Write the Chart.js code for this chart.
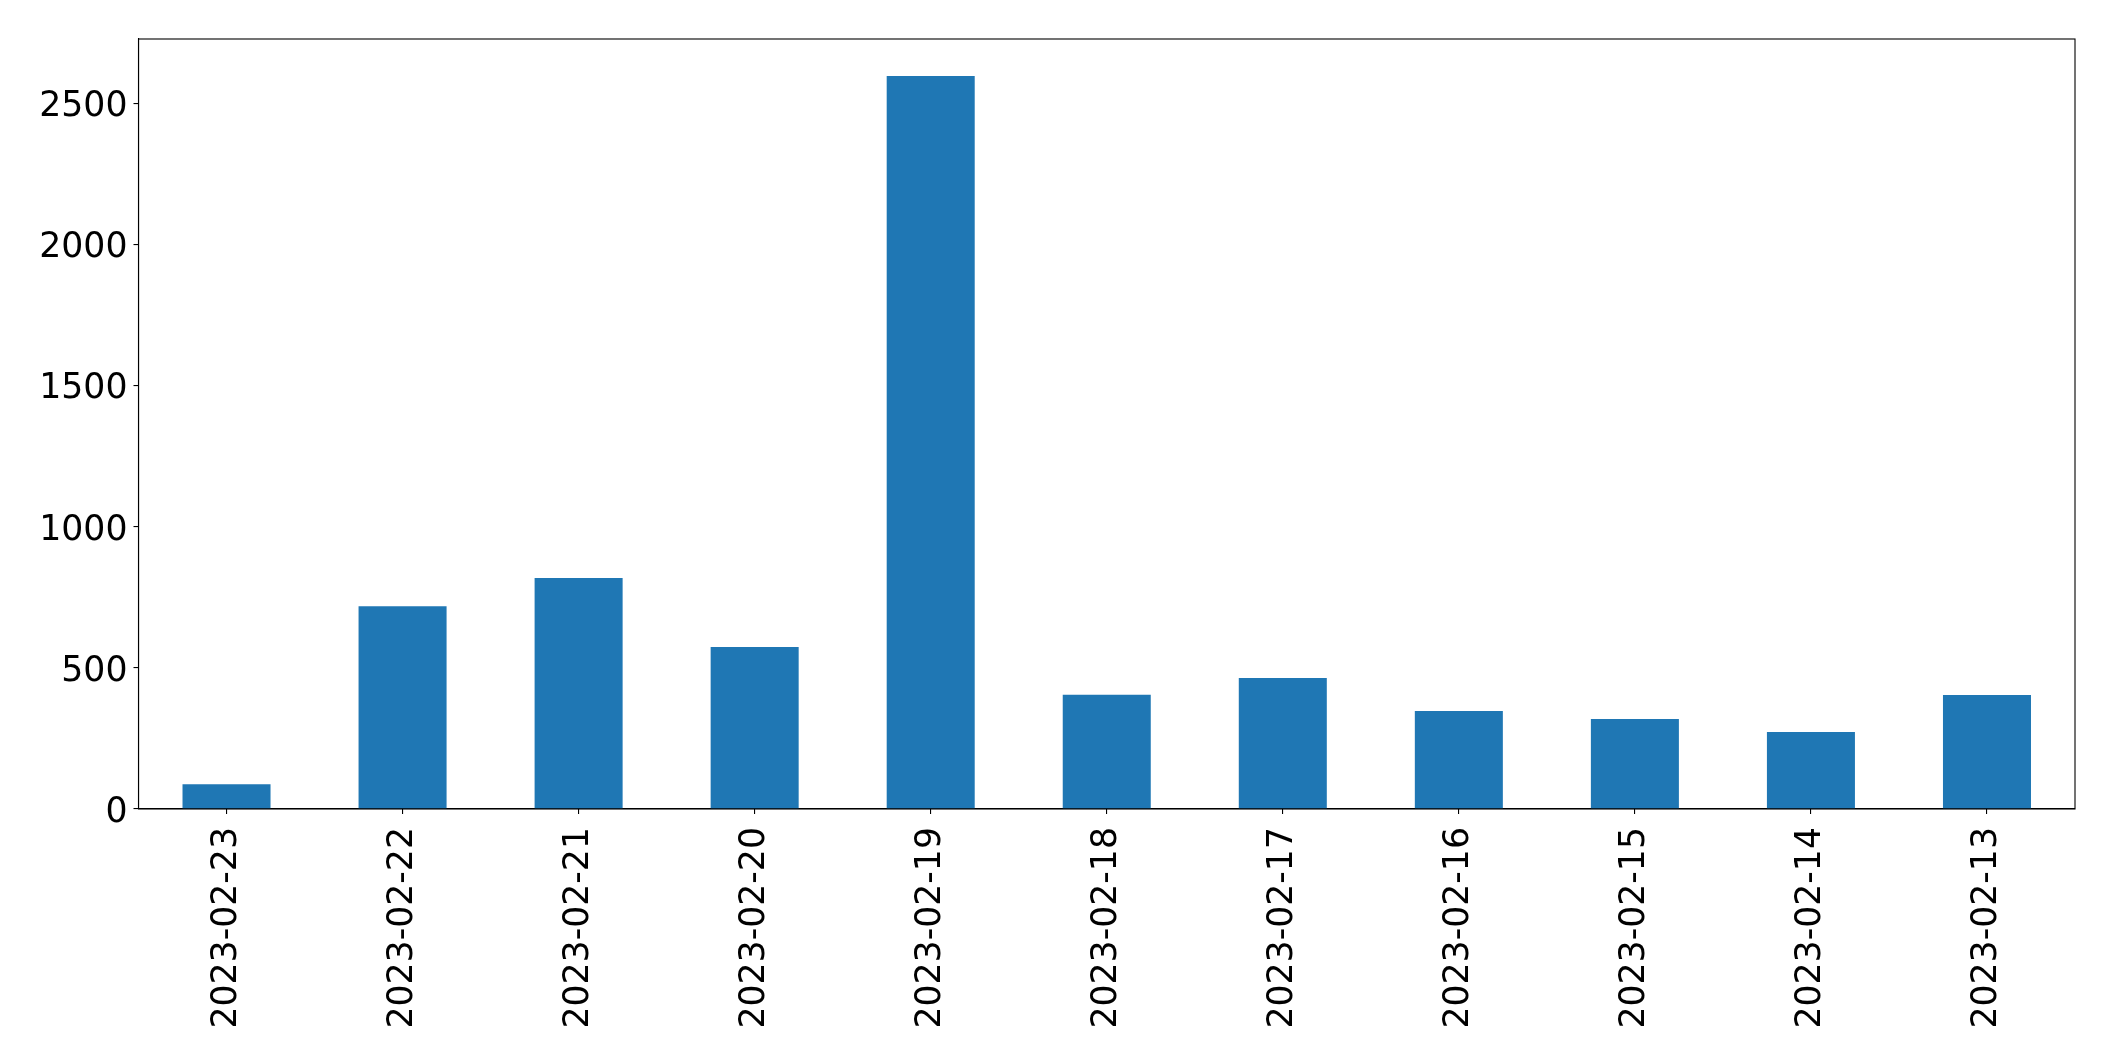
<!DOCTYPE html>
<html>
<head>
<meta charset="utf-8">
<script src="https://cdn.jsdelivr.net/npm/chart.js@4/dist/chart.umd.min.js"></script>
<style>
  body { margin: 0; background: #fff; }
  canvas { display: block; }
</style>
</head>
<body>
<canvas id="dates_chart" width="2115" height="1061"></canvas>
<script>
const dates = ['2023-02-23','2023-02-22','2023-02-21','2023-02-20','2023-02-19','2023-02-18','2023-02-17','2023-02-16','2023-02-15','2023-02-14','2023-02-13'];
const counts = [88, 718, 818, 574, 2596, 405, 464, 347, 319, 273, 404];
const yTicks = [0, 500, 1000, 1500, 2000, 2500];
const yMax = 2727;

const barColor = '#1f77b4';
const fontSpec = {family: 'DejaVu Sans', size: 34.7};

// matplotlib style box round the plot area
const frameBox = {
    id: 'frameBox',
    afterDraw(chart) {
        const a = chart.chartArea;
        const ctx = chart.ctx;
        ctx.save();
        ctx.strokeStyle = '#000';
        ctx.lineWidth = 1.1;
        ctx.strokeRect(a.left, a.top, a.right - a.left, a.bottom - a.top);
        ctx.restore();
    }
};

function draw_dates_chart(id){
    const data = {
        labels: dates,
        datasets: [{
            label: '',
            backgroundColor: barColor,
            borderWidth: 0,
            data: counts,
            categoryPercentage: 1.0,
            barPercentage: 0.5,
        }]
    };
    var config = {
        type: 'bar',
        data: data,
        options: {
            responsive: false,
            animation: false,
            layout: { padding: { top: 39, right: 40, left: 0, bottom: 0 } },
            plugins: {
                legend: { display: false },
                tooltip: { enabled: false },
            },
            scales: {
                x: {
                    offset: true,
                    grid: { display: true, offset: false, drawOnChartArea: false, drawTicks: true, tickLength: 5, color: '#000', lineWidth: 1.1 },
                    border: { display: true, color: '#000', width: 1.1 },
                    ticks: { color: '#000', font: fontSpec, minRotation: 90, maxRotation: 90, padding: 13, autoSkip: false },
                    afterFit(scale) { scale.height = 252; },
                },
                y: {
                    min: 0,
                    max: yMax,
                    grid: { display: true, drawOnChartArea: false, drawTicks: true, tickLength: 5, color: '#000', lineWidth: 1.1 },
                    border: { display: true, color: '#000', width: 1.1 },
                    ticks: { color: '#000', font: fontSpec, padding: 6, labelOffset: 4, callback: v => String(v) },
                    afterBuildTicks(scale) { scale.ticks = yTicks.map(v => ({value: v})); },
                    afterFit(scale) { scale.width = 138.5; },
                }
            }
        },
        plugins: [frameBox]
    };
    const myChart = new Chart(document.getElementById(id), config);
}

draw_dates_chart('dates_chart');
</script>
</body>
</html>
